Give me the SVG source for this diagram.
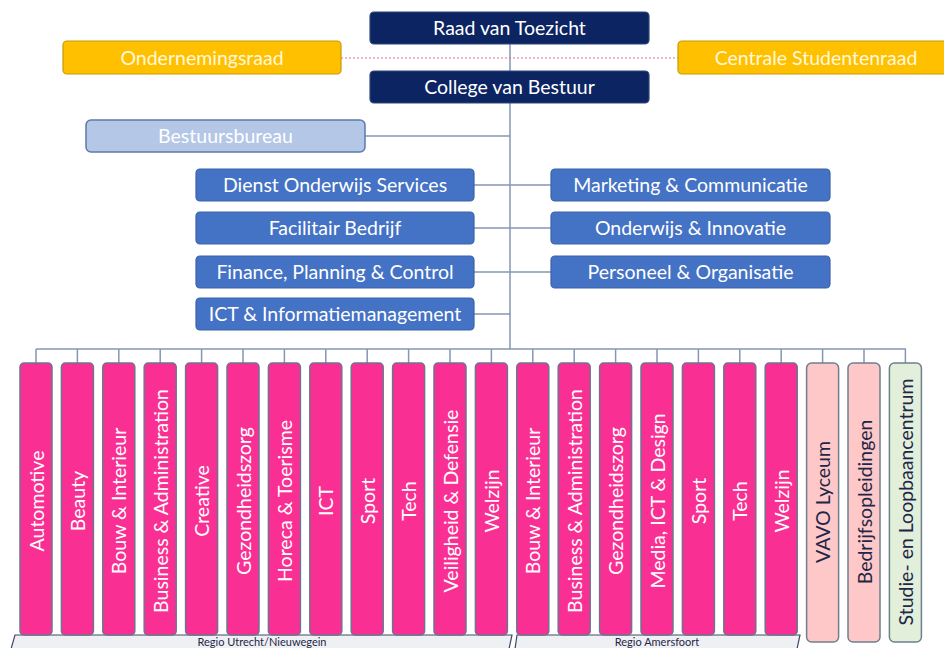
<svg xmlns="http://www.w3.org/2000/svg" width="944" height="648" viewBox="0 0 944 648">
<style>
text{font-family:Lato,"Open Sans","Noto Sans",sans-serif;}
.navy{fill:#0c2461;stroke:#31477a;stroke-width:1.2}
.yel{fill:#ffc000;stroke:#c99a00;stroke-width:1.2}
.bb{fill:#b4c7e7;stroke:#5b7bab;stroke-width:1.5}
.blue{fill:#4472c4;stroke:#3b63a8;stroke-width:1.2}
.pink{fill:#fa2f93;stroke:#6f7390;stroke-width:1.5}
.lpink{fill:#ffc8c8;stroke:#6f7f90;stroke-width:1.5}
.lgreen{fill:#e2efda;stroke:#6f7f90;stroke-width:1.5}
.t{fill:#fff;font-size:19.5px;text-anchor:middle}
.ty{fill:#fff8dc;font-size:19.5px;text-anchor:middle}
.tc{fill:#fff;font-size:19.5px;text-anchor:middle;dominant-baseline:central}
.td{fill:#1f2747;font-size:19.5px;text-anchor:middle;dominant-baseline:central}
.conn{stroke:#8497b5;stroke-width:1.5;fill:none}
.region{fill:#eef0f3;stroke:#3c4a68;stroke-width:1.2}
.rt{fill:#1f2747;font-size:11px;text-anchor:middle}
</style>
<g id="connectors">
<line class="conn" x1="510" y1="44" x2="510" y2="71"/>
<line class="conn" x1="510" y1="103" x2="510" y2="349"/>
<line class="conn" x1="365" y1="136" x2="510" y2="136"/>
<line class="conn" x1="474" y1="185" x2="551" y2="185"/>
<line class="conn" x1="474" y1="228" x2="551" y2="228"/>
<line class="conn" x1="474" y1="272" x2="551" y2="272"/>
<line class="conn" x1="474" y1="314" x2="510" y2="314"/>
<line x1="341" y1="58" x2="678" y2="58" stroke="#e0708a" stroke-width="1" stroke-dasharray="2 2"/>
<line class="conn" x1="36" y1="349" x2="906" y2="349"/>
<path class="conn" d="M36,349V363M77.4,349V363M118.8,349V363M160.2,349V363M201.6,349V363M243,349V363M284.4,349V363M325.8,349V363M367.2,349V363M408.6,349V363M450,349V363M491.4,349V363M532.8,349V363M574.2,349V363M615.6,349V363M657,349V363M698.4,349V363M739.8,349V363M781.2,349V363M822.6,349V363M864,349V363M905.4,349V363"/>
</g>
<g id="raad"><rect class="navy" x="370" y="12" width="279" height="32" rx="4"/><text class="t" x="509.5" y="35">Raad van Toezicht</text></g>
<g id="college"><rect class="navy" x="370" y="71" width="279" height="32" rx="4"/><text class="t" x="509.5" y="94">College van Bestuur</text></g>
<g id="ondernemingsraad"><rect class="yel" x="63" y="41" width="278" height="33" rx="4"/><text class="ty" x="202" y="64.5">Ondernemingsraad</text></g>
<g id="csr"><rect class="yel" x="678" y="41" width="275" height="33" rx="4"/><text class="ty" x="816" y="64.5">Centrale Studentenraad</text></g>
<g id="bestuursbureau"><rect class="bb" x="86" y="120" width="279" height="32" rx="5"/><text class="t" x="225.5" y="143">Bestuursbureau</text></g>
<g id="dos"><rect class="blue" x="196" y="169" width="278" height="32" rx="4"/><text class="t" x="335" y="192">Dienst Onderwijs Services</text></g>
<g id="fb"><rect class="blue" x="196" y="212" width="278" height="32" rx="4"/><text class="t" x="335" y="235">Facilitair Bedrijf</text></g>
<g id="fpc"><rect class="blue" x="196" y="256" width="278" height="32" rx="4"/><text class="t" x="335" y="279">Finance, Planning &amp; Control</text></g>
<g id="ict"><rect class="blue" x="196" y="298" width="278" height="32" rx="4"/><text class="t" x="335" y="321">ICT &amp; Informatiemanagement</text></g>
<g id="mc"><rect class="blue" x="551" y="169" width="279" height="32" rx="4"/><text class="t" x="690.5" y="192">Marketing &amp; Communicatie</text></g>
<g id="oi"><rect class="blue" x="551" y="212" width="279" height="32" rx="4"/><text class="t" x="690.5" y="235">Onderwijs &amp; Innovatie</text></g>
<g id="po"><rect class="blue" x="551" y="256" width="279" height="32" rx="4"/><text class="t" x="690.5" y="279">Personeel &amp; Organisatie</text></g>
<g id="regio-utrecht"><path class="region" d="M11,649L15,635H512L509,649Z"/><text class="rt" x="262" y="646">Regio Utrecht/Nieuwegein</text></g>
<g id="regio-amersfoort"><path class="region" d="M515,649L517,635H800L797,649Z"/><text class="rt" x="657" y="646">Regio Amersfoort</text></g>
<g id="c1"><rect class="pink" x="20" y="363" width="32" height="272" rx="4"/><text class="tc" transform="translate(36,501) rotate(-90)">Automotive</text></g>
<g id="c2"><rect class="pink" x="61.4" y="363" width="32" height="272" rx="4"/><text class="tc" transform="translate(77.4,501) rotate(-90)">Beauty</text></g>
<g id="c3"><rect class="pink" x="102.8" y="363" width="32" height="272" rx="4"/><text class="tc" transform="translate(118.8,501) rotate(-90)">Bouw &amp; Interieur</text></g>
<g id="c4"><rect class="pink" x="144.2" y="363" width="32" height="272" rx="4"/><text class="tc" transform="translate(160.2,501) rotate(-90)">Business &amp; Administration</text></g>
<g id="c5"><rect class="pink" x="185.6" y="363" width="32" height="272" rx="4"/><text class="tc" transform="translate(201.6,501) rotate(-90)">Creative</text></g>
<g id="c6"><rect class="pink" x="227" y="363" width="32" height="272" rx="4"/><text class="tc" transform="translate(243,501) rotate(-90)">Gezondheidszorg</text></g>
<g id="c7"><rect class="pink" x="268.4" y="363" width="32" height="272" rx="4"/><text class="tc" transform="translate(284.4,501) rotate(-90)">Horeca &amp; Toerisme</text></g>
<g id="c8"><rect class="pink" x="309.8" y="363" width="32" height="272" rx="4"/><text class="tc" transform="translate(325.8,501) rotate(-90)">ICT</text></g>
<g id="c9"><rect class="pink" x="351.2" y="363" width="32" height="272" rx="4"/><text class="tc" transform="translate(367.2,501) rotate(-90)">Sport</text></g>
<g id="c10"><rect class="pink" x="392.6" y="363" width="32" height="272" rx="4"/><text class="tc" transform="translate(408.6,501) rotate(-90)">Tech</text></g>
<g id="c11"><rect class="pink" x="434" y="363" width="32" height="272" rx="4"/><text class="tc" transform="translate(450,501) rotate(-90)">Veiligheid &amp; Defensie</text></g>
<g id="c12"><rect class="pink" x="475.4" y="363" width="32" height="272" rx="4"/><text class="tc" transform="translate(491.4,501) rotate(-90)">Welzijn</text></g>
<g id="c13"><rect class="pink" x="516.8" y="363" width="32" height="272" rx="4"/><text class="tc" transform="translate(532.8,501) rotate(-90)">Bouw &amp; Interieur</text></g>
<g id="c14"><rect class="pink" x="558.2" y="363" width="32" height="272" rx="4"/><text class="tc" transform="translate(574.2,501) rotate(-90)">Business &amp; Administration</text></g>
<g id="c15"><rect class="pink" x="599.6" y="363" width="32" height="272" rx="4"/><text class="tc" transform="translate(615.6,501) rotate(-90)">Gezondheidszorg</text></g>
<g id="c16"><rect class="pink" x="641" y="363" width="32" height="272" rx="4"/><text class="tc" transform="translate(657,501) rotate(-90)">Media, ICT &amp; Design</text></g>
<g id="c17"><rect class="pink" x="682.4" y="363" width="32" height="272" rx="4"/><text class="tc" transform="translate(698.4,501) rotate(-90)">Sport</text></g>
<g id="c18"><rect class="pink" x="723.8" y="363" width="32" height="272" rx="4"/><text class="tc" transform="translate(739.8,501) rotate(-90)">Tech</text></g>
<g id="c19"><rect class="pink" x="765.2" y="363" width="32" height="272" rx="4"/><text class="tc" transform="translate(781.2,501) rotate(-90)">Welzijn</text></g>
<g id="c20"><rect class="lpink" x="806.6" y="363" width="32" height="279" rx="5"/><text class="td" transform="translate(822.6,502) rotate(-90)">VAVO Lyceum</text></g>
<g id="c21"><rect class="lpink" x="848" y="363" width="32" height="279" rx="5"/><text class="td" transform="translate(864,502) rotate(-90)">Bedrijfsopleidingen</text></g>
<g id="c22"><rect class="lgreen" x="889.4" y="363" width="32" height="279" rx="5"/><text class="td" transform="translate(905.4,502) rotate(-90)">Studie- en Loopbaancentrum</text></g>
</svg>
